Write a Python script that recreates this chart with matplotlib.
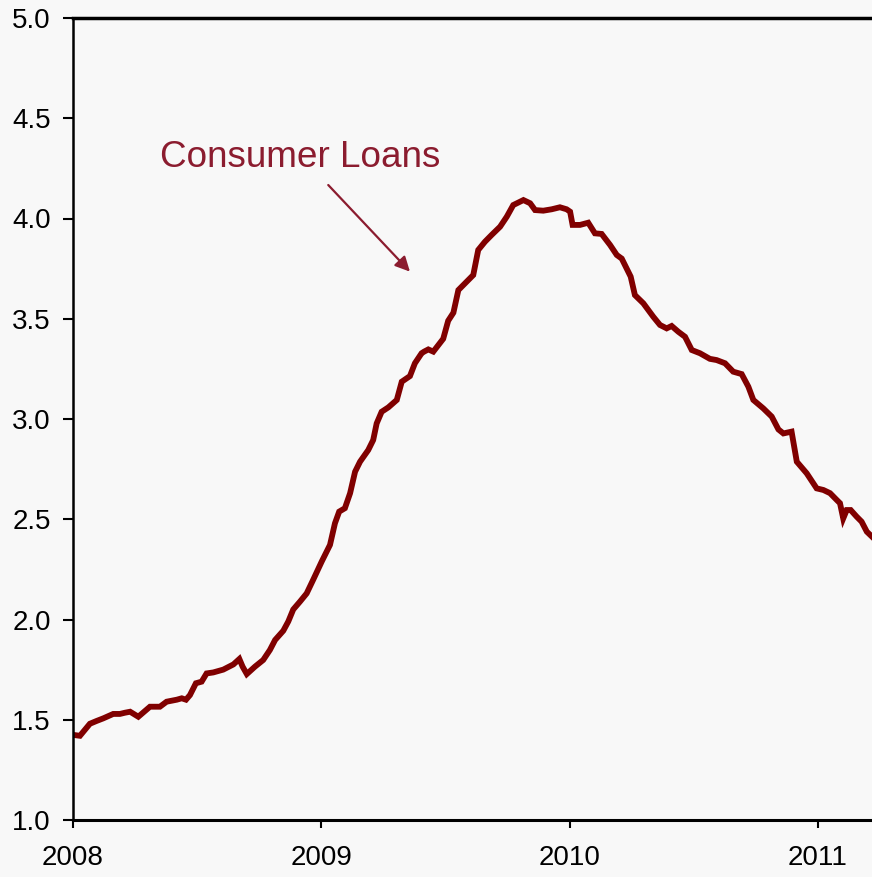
import matplotlib
matplotlib.use("Agg")
import matplotlib.pyplot as plt
import numpy as np

# Consumer loan series (weekly readings, fractional years since 2008)
years_since_2008 = [
    0.004, 0.028, 0.068, 0.095, 0.122, 0.162, 0.189, 0.209, 0.230, 0.263,
    0.310, 0.350, 0.377, 0.418, 0.438, 0.455, 0.471, 0.495, 0.518, 0.538,
    0.565, 0.605, 0.646, 0.670, 0.683, 0.700, 0.733, 0.766, 0.793, 0.814,
    0.847, 0.867, 0.887, 0.914, 0.941, 0.968, 1.002, 1.035, 1.055, 1.072,
    1.095, 1.116, 1.136, 1.156, 1.189, 1.209, 1.223, 1.243, 1.270, 1.304,
    1.324, 1.357, 1.377, 1.404, 1.414, 1.431, 1.451, 1.491, 1.511, 1.532,
    1.552, 1.572, 1.612, 1.632, 1.659, 1.686, 1.720, 1.747, 1.773, 1.814,
    1.841, 1.861, 1.894, 1.928, 1.961, 1.988, 2.002, 2.012, 2.042, 2.075,
    2.102, 2.129, 2.163, 2.190, 2.210, 2.246, 2.263, 2.297, 2.337, 2.364,
    2.391, 2.411, 2.438, 2.465, 2.492, 2.525, 2.565, 2.592, 2.626, 2.659,
    2.693, 2.720, 2.740, 2.780, 2.814, 2.841, 2.861, 2.894, 2.915, 2.955,
    2.995, 3.022, 3.049, 3.076, 3.089, 3.102, 3.116, 3.132, 3.156, 3.176,
    3.197, 3.218,
]
consumer_loans = [
    1.424, 1.420, 1.480, 1.494, 1.507, 1.529, 1.529, 1.535, 1.540, 1.515,
    1.565, 1.565, 1.590, 1.600, 1.607, 1.600, 1.623, 1.682, 1.690, 1.731,
    1.736, 1.750, 1.776, 1.803, 1.765, 1.728, 1.765, 1.798, 1.848, 1.898,
    1.944, 1.990, 2.050, 2.089, 2.130, 2.200, 2.290, 2.372, 2.480, 2.538,
    2.555, 2.630, 2.737, 2.787, 2.845, 2.895, 2.978, 3.036, 3.058, 3.095,
    3.186, 3.214, 3.278, 3.328, 3.336, 3.347, 3.336, 3.400, 3.490, 3.530,
    3.643, 3.668, 3.718, 3.843, 3.884, 3.918, 3.959, 4.009, 4.067, 4.092,
    4.076, 4.042, 4.039, 4.046, 4.056, 4.046, 4.034, 3.968, 3.968, 3.979,
    3.926, 3.923, 3.868, 3.818, 3.800, 3.710, 3.618, 3.577, 3.510, 3.469,
    3.452, 3.464, 3.435, 3.410, 3.344, 3.328, 3.300, 3.294, 3.278, 3.236,
    3.224, 3.161, 3.095, 3.053, 3.012, 2.948, 2.928, 2.937, 2.787, 2.729,
    2.654, 2.646, 2.630, 2.596, 2.580, 2.504, 2.546, 2.546, 2.513, 2.488,
    2.438, 2.413,
]
x_ticks = [2008, 2009, 2010, 2011]
y_ticks = [1.0, 1.5, 2.0, 2.5, 3.0, 3.5, 4.0, 4.5, 5.0]

plt.rcParams['font.family'] = ['Liberation Sans', 'DejaVu Sans']

bg = '#f8f8f8'
line_color = '#800000'
label_color = '#8b1c2f'

fig = plt.figure(figsize=(8.72, 8.77), dpi=100, facecolor=bg)
ax = fig.add_axes([73 / 872, 57 / 877, 1 - 73 / 872, (820 - 18) / 877])
ax.set_facecolor(bg)

dates = 2008 + np.array(years_since_2008)
ax.plot(dates, consumer_loans, color=line_color, lw=4.2, solid_joinstyle='miter')

ax.set_xlim(2008, 2008 + (872 - 73) / 248.3)
ax.set_ylim(1.0, 5.0)
ax.set_xticks(x_ticks)
ax.set_xticklabels([str(t) for t in x_ticks])
ax.set_yticks(y_ticks)
ax.set_yticklabels([f"{t:.1f}" for t in y_ticks])
ax.tick_params(axis='both', direction='out', width=1.5,
               labelsize=20, colors='black')
ax.tick_params(axis='y', length=7, pad=9)
ax.tick_params(axis='x', length=6, pad=12)

ax.spines['right'].set_visible(False)
ax.spines['top'].set_linewidth(2.5)
ax.spines['left'].set_linewidth(1.8)
ax.spines['bottom'].set_linewidth(2.2)

ax.annotate('', xy=(2009.357, 3.735), xytext=(2009.028, 4.167),
            arrowprops=dict(arrowstyle='-|>', color=label_color, lw=1.6,
                            mutation_scale=22, shrinkA=0, shrinkB=0))
ax.text(2008.35, 4.305, 'Consumer Loans', color=label_color, fontsize=26.6,
        ha='left', va='center')

fig.savefig('out.png', dpi=100, facecolor=bg)
